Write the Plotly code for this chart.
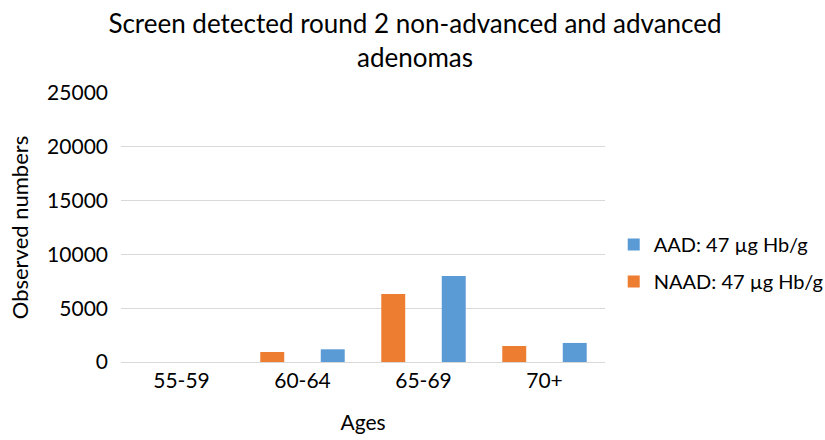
import plotly.graph_objects as go

# Screen detected round 2 adenomas by age band
ages = ["55-59", "60-64", "65-69", "70+"]
naad_counts = [0, 930, 6320, 1490]
aad_counts = [0, 1180, 7990, 1770]

series_names = ["NAAD: 47 \u00b5g Hb/g", "AAD: 47 \u00b5g Hb/g"]
series_colors = ["#ED7D31", "#5B9BD5"]

FONT = "Lato, 'Open Sans', sans-serif"
BLACK = "#000000"

fig = go.Figure()
fig.add_trace(go.Bar(
    x=ages, y=naad_counts, name=series_names[0],
    marker=dict(color=series_colors[0], line=dict(width=0)),
    width=0.198, offset=-0.349, legendgroup="naad", legendrank=2,
))
fig.add_trace(go.Bar(
    x=ages, y=aad_counts, name=series_names[1],
    marker=dict(color=series_colors[1], line=dict(width=0)),
    width=0.198, offset=0.151, legendgroup="aad", legendrank=1,
))

fig.update_layout(
    width=825, height=440,
    margin=dict(l=121, r=220, t=93, b=78, autoexpand=False),
    plot_bgcolor="white", paper_bgcolor="white",
    font=dict(family=FONT, color=BLACK, size=21),
    title=dict(
        text="Screen detected round 2 non-advanced and advanced<br>adenomas",
        x=0.503, xanchor="center", xref="container",
        y=1 - 33 / 440, yanchor="middle", yref="container",
        font=dict(size=26, color=BLACK, family=FONT),
    ),
    barmode="overlay",
    showlegend=True,
    legend=dict(
        x=1.018, xanchor="left", y=0.368, yanchor="middle",
        traceorder="grouped", tracegroupgap=8,
        font=dict(size=20, color=BLACK),
        itemwidth=30,
    ),
    xaxis=dict(
        title=dict(text="Ages", font=dict(size=21, color=BLACK), standoff=24),
        showgrid=False, showline=True, linecolor="#d9d9d9", linewidth=1,
        ticks="", tickfont=dict(size=21, color=BLACK), automargin=False,
    ),
    yaxis=dict(
        title=dict(text="Observed numbers", font=dict(size=22, color=BLACK), standoff=12),
        range=[0, 25000], tick0=0, dtick=5000, tickformat="d",
        showgrid=True, gridcolor="#d9d9d9", gridwidth=1,
        zeroline=False, showline=False, ticks="",
        tickfont=dict(size=21, color=BLACK),
        ticklabelstandoff=12, automargin=False,
    ),
)

fig.write_html("out.html")
